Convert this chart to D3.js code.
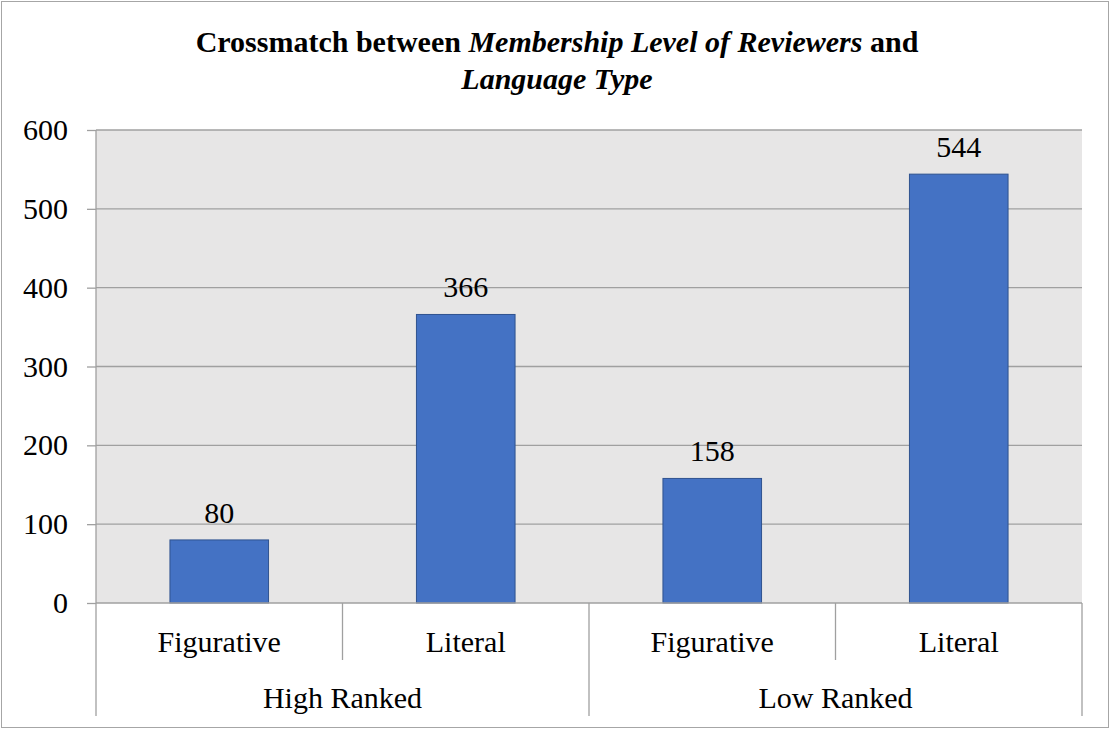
<!DOCTYPE html>
<html><head><meta charset="utf-8">
<script src="https://cdn.jsdelivr.net/npm/d3@7"></script>
</head><body style="margin:0"><svg id="c" width="1111" height="729"></svg>
<script>
const groups = ["High Ranked", "Low Ranked"];
const categories = ["Figurative", "Literal", "Figurative", "Literal"];
const categoryGroup = [0, 0, 1, 1];
const values = [80, 366, 158, 544];
const yTicks = [0, 100, 200, 300, 400, 500, 600];

const FONT = "Liberation Serif";
const FS = 30;
const svg = d3.select("#c");
const L = 96, R = 1082, T = 130, B = 603;
svg.append("rect").attr("x",1.5).attr("y",1.5).attr("width",1107).attr("height",726)
  .attr("fill","#fff").attr("stroke","#a6a6a6").attr("stroke-width",1);
svg.append("rect").attr("x",L).attr("y",T).attr("width",R-L).attr("height",B-T).attr("fill","#e7e6e6");

const y = d3.scaleLinear().domain([0,600]).range([B,T]);
const x = d3.scaleBand().domain(d3.range(categories.length)).range([L,R]).paddingInner(0.6).paddingOuter(0.3);
const xs = d3.scaleBand().domain(d3.range(categories.length)).range([L,R]);

svg.append("g").selectAll("line").data(yTicks.filter(d=>d>0)).join("line")
  .attr("x1",L).attr("x2",R).attr("y1",d=>y(d)).attr("y2",d=>y(d))
  .attr("stroke","#a0a0a0").attr("stroke-width",1.3);

const ya = svg.append("g").attr("transform",`translate(${L},0)`)
  .call(d3.axisLeft(y).tickValues(yTicks).tickSize(9).tickPadding(19));
ya.attr("font-family",FONT).attr("font-size",FS);
ya.select(".domain").remove();
ya.selectAll("line").attr("stroke","#a0a0a0").attr("stroke-width",1.3);
ya.selectAll("text").attr("fill","#000").attr("font-family",FONT).attr("font-size",FS);

svg.append("g").selectAll("rect").data(values).join("rect")
  .attr("x",(d,i)=>x(i)).attr("width",x.bandwidth())
  .attr("y",d=>y(d)).attr("height",d=>B-y(d))
  .attr("fill","#4472c4").attr("stroke","#2f528f").attr("stroke-width",1);

svg.append("g").selectAll("text").data(values).join("text")
  .attr("x",(d,i)=>x(i)+x.bandwidth()/2).attr("y",d=>y(d)-17)
  .attr("text-anchor","middle").attr("font-family",FONT).attr("font-size",FS).text(d=>d);

const g = svg.append("g").attr("stroke","#a0a0a0").attr("stroke-width",1.3);
g.append("line").attr("x1",L).attr("x2",R).attr("y1",B).attr("y2",B);
g.append("line").attr("x1",L).attr("x2",L).attr("y1",T).attr("y2",716);
g.append("line").attr("x1",R).attr("x2",R).attr("y1",B).attr("y2",716);
categories.forEach((c,i)=>{
  if(i===0) return;
  const bx = xs(i);
  const isGroup = categoryGroup[i]!==categoryGroup[i-1];
  g.append("line").attr("x1",bx).attr("x2",bx).attr("y1",B).attr("y2",isGroup?716:660);
});

svg.append("g").selectAll("text").data(categories).join("text")
  .attr("x",(d,i)=>xs(i)+xs.bandwidth()/2).attr("y",652)
  .attr("text-anchor","middle").attr("font-family",FONT).attr("font-size",FS).text(d=>d);

svg.append("g").selectAll("text").data(groups).join("text")
  .attr("x",(d,gi)=>{const idx=categoryGroup.map((v,i)=>v===gi?i:-1).filter(i=>i>=0);
     return (xs(idx[0])+xs(idx[idx.length-1])+xs.bandwidth())/2;})
  .attr("y",708).attr("text-anchor","middle").attr("font-family",FONT).attr("font-size",FS).text(d=>d);

const t1 = svg.append("text").attr("x",557).attr("y",52).attr("text-anchor","middle")
  .attr("font-family",FONT).attr("font-size",30).attr("font-weight","bold");
t1.append("tspan").text("Crossmatch between ");
t1.append("tspan").attr("font-style","italic").text("Membership Level of Reviewers");
t1.append("tspan").text(" and");
svg.append("text").attr("x",557).attr("y",89).attr("text-anchor","middle")
  .attr("font-family",FONT).attr("font-size",30).attr("font-weight","bold").attr("font-style","italic").text("Language Type");
</script></body></html>
